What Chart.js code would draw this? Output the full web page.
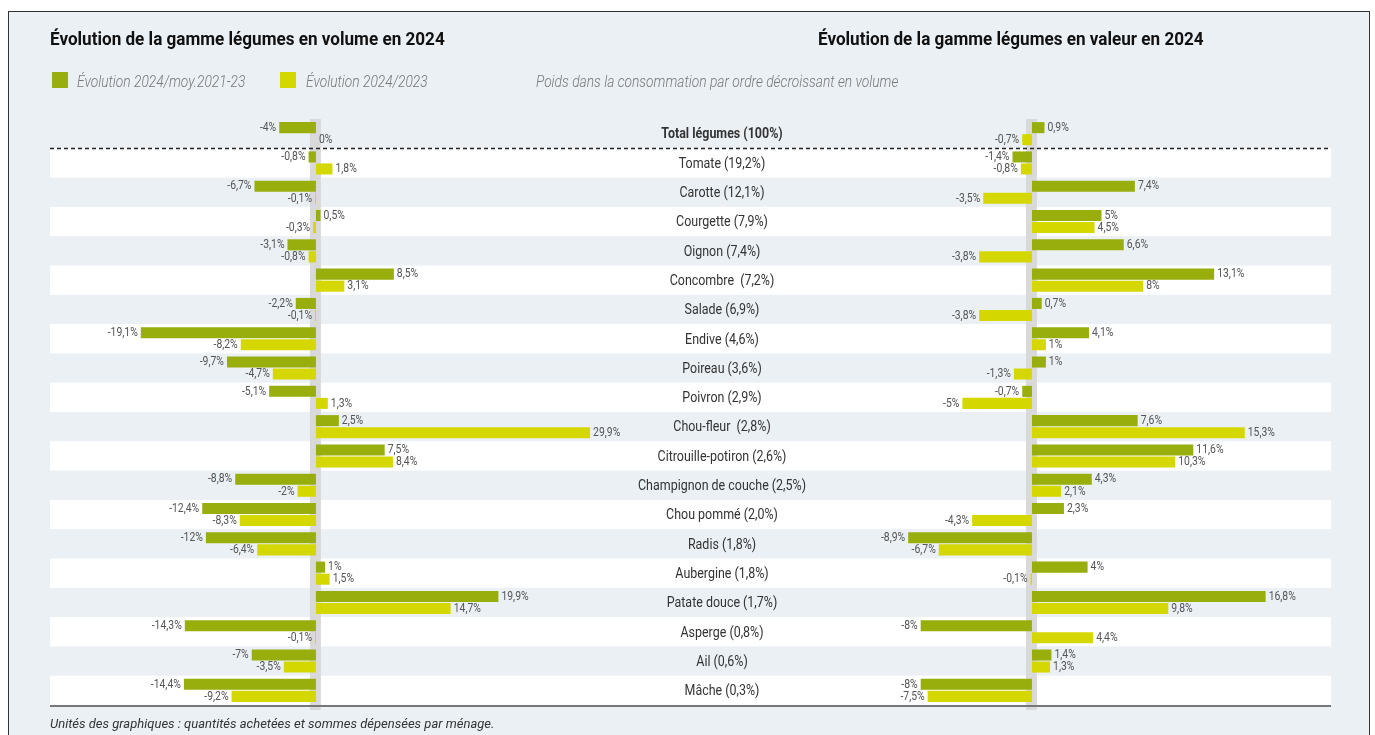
<!DOCTYPE html>
<html lang="fr">
<head>
    <meta charset="UTF-8">
    <title>Évolution de la gamme légumes en 2024</title>
    <style>
        body {
            margin: 0;
            width: 1375px;
            height: 735px;
            overflow: hidden;
            position: relative;
            background: #fff;
            font-family: Roboto, sans-serif;
        }
        #frame {
            position: absolute;
            left: 8px;
            top: 11px;
            width: 1362px;
            height: 740px;
            box-sizing: border-box;
            border: 1.5px solid #333;
            background: #ebf0f5;
        }
        #chart {
            position: absolute;
            left: 0;
            top: 0;
        }
        .title {
            position: absolute;
            top: 28px;
            font-size: 19px;
            line-height: 22px;
            font-weight: bold;
            color: #111;
            white-space: nowrap;
            transform: scaleX(0.9);
            transform-origin: left center;
        }
        .swatch {
            position: absolute;
            top: 72px;
            width: 16px;
            height: 16px;
        }
        .legend {
            position: absolute;
            top: 71px;
            font-size: 17px;
            line-height: 20px;
            font-style: italic;
            font-weight: 300;
            color: #777;
            white-space: nowrap;
            transform: scaleX(0.81);
            transform-origin: left center;
        }
        #note {
            position: absolute;
            left: 50px;
            top: 716px;
            font-size: 13px;
            line-height: 16px;
            font-style: italic;
            color: #333;
            white-space: nowrap;
        }
    </style>
    <script src="https://cdn.jsdelivr.net/npm/chart.js"></script>
</head>
<body>
    <div id="frame"></div>
    <canvas id="chart" width="1375" height="735"></canvas>
    <div class="title" style="left:50px">Évolution de la gamme légumes en volume en 2024</div>
    <div class="title" style="left:818px">Évolution de la gamme légumes en valeur en 2024</div>
    <div class="swatch" style="left:52px; background:#98ae0c"></div>
    <div class="legend" style="left:77px">Évolution 2024/moy.2021-23</div>
    <div class="swatch" style="left:280px; background:#d4d800"></div>
    <div class="legend" style="left:306px">Évolution 2024/2023</div>
    <div class="legend" style="left:536px">Poids dans la consommation par ordre décroissant en volume</div>
    <div id="note">Unités des graphiques : quantités achetées et sommes dépensées par ménage.</div>

    <script>
        const categories = [
            'Total légumes (100%)', 'Tomate (19,2%)', 'Carotte (12,1%)', 'Courgette (7,9%)',
            'Oignon (7,4%)', 'Concombre  (7,2%)', 'Salade (6,9%)', 'Endive (4,6%)',
            'Poireau (3,6%)', 'Poivron (2,9%)', 'Chou-fleur  (2,8%)', 'Citrouille-potiron (2,6%)',
            'Champignon de couche (2,5%)', 'Chou pommé (2,0%)', 'Radis (1,8%)', 'Aubergine (1,8%)',
            'Patate douce (1,7%)', 'Asperge (0,8%)', 'Ail (0,6%)', 'Mâche (0,3%)'
        ];

        // volume
        const volVsMoy = [-4, -0.8, -6.7, 0.5, -3.1, 8.5, -2.2, -19.1, -9.7, -5.1, 2.5, 7.5, -8.8, -12.4, -12, 1, 19.9, -14.3, -7, -14.4];
        const volVs2023 = [0, 1.8, -0.1, -0.3, -0.8, 3.1, -0.1, -8.2, -4.7, 1.3, 29.9, 8.4, -2, -8.3, -6.4, 1.5, 14.7, -0.1, -3.5, -9.2];

        // valeur
        const valVsMoy = [0.9, -1.4, 7.4, 5, 6.6, 13.1, 0.7, 4.1, 1, -0.7, 7.6, 11.6, 4.3, 2.3, -8.9, 4, 16.8, -8, 1.4, -8];
        const valVs2023 = [-0.7, -0.8, -3.5, 4.5, -3.8, 8, -3.8, 1, -1.3, -5, 15.3, 10.3, 2.1, -4.3, -6.7, -0.1, 9.8, 4.4, 1.3, -7.5];

        const green = '#98ae0c';
        const yellow = '#d4d800';
        const font = 'Roboto, sans-serif';
        const labelX = 722;

        function fmt(v) {
            return String(v).replace('.', ',') + '%';
        }

        // narrow text: squeeze horizontally around the anchor point
        function narrowText(ctx, text, x, y, sx) {
            ctx.save();
            ctx.translate(x, y);
            ctx.scale(sx, 1);
            ctx.fillText(text, 0, 0);
            ctx.restore();
        }

        const decorPlugin = {
            id: 'decor',
            beforeDatasetsDraw(chart) {
                const {ctx, chartArea, scales} = chart;
                const y = scales.y;
                const step = y.getPixelForValue(1) - y.getPixelForValue(0);
                ctx.save();
                // white bands
                ctx.fillStyle = '#fff';
                categories.forEach((c, i) => {
                    if (i % 2 === 1) {
                        ctx.fillRect(chartArea.left, y.getPixelForValue(i) - step / 2, chartArea.right - chartArea.left, step);
                    }
                });
                // zero bands
                ctx.fillStyle = '#d9d9d9';
                [scales.xL, scales.xR].forEach(s => {
                    const x0 = s.getPixelForValue(0);
                    ctx.fillRect(x0 - 6, chartArea.top, 11, chartArea.bottom - chartArea.top + 5);
                });
                // dashed separator below total
                const yd = Math.round(y.getPixelForValue(0) + step / 2) + 0.5;
                ctx.strokeStyle = '#222';
                ctx.lineWidth = 1.5;
                ctx.setLineDash([4, 3]);
                ctx.beginPath();
                ctx.moveTo(chartArea.left, yd);
                ctx.lineTo(chartArea.right, yd);
                ctx.stroke();
                // bottom line
                ctx.setLineDash([]);
                ctx.strokeStyle = '#777';
                ctx.lineWidth = 2;
                ctx.beginPath();
                ctx.moveTo(chartArea.left, chartArea.bottom + 1);
                ctx.lineTo(chartArea.right, chartArea.bottom + 1);
                ctx.stroke();
                ctx.restore();
            },
            afterDatasetsDraw(chart) {
                const {ctx, scales} = chart;
                ctx.save();
                ctx.textBaseline = 'middle';
                ctx.fillStyle = '#555';
                ctx.font = '13px ' + font;
                chart.data.datasets.forEach((ds, di) => {
                    const meta = chart.getDatasetMeta(di);
                    meta.data.forEach((bar, i) => {
                        const v = ds.data[i];
                        if (v >= 0) {
                            ctx.textAlign = 'left';
                            narrowText(ctx, fmt(v), Math.max(bar.x, bar.base) + 3, bar.y, 0.8);
                        } else {
                            ctx.textAlign = 'right';
                            narrowText(ctx, fmt(v), Math.min(bar.x, bar.base) - 3, bar.y, 0.8);
                        }
                    });
                });
                // category labels
                ctx.textAlign = 'center';
                ctx.fillStyle = '#333';
                categories.forEach((c, i) => {
                    ctx.font = (i === 0 ? 'bold ' : '') + '15px ' + font;
                    narrowText(ctx, c, labelX, scales.y.getPixelForValue(i) + 1, 0.83);
                });
                ctx.restore();
            }
        };

        window.onload = function() {
            const ctx = document.getElementById('chart').getContext('2d');
            new Chart(ctx, {
                type: 'bar',
                data: {
                    labels: categories,
                    datasets: [
                        { label: 'Évolution 2024/moy.2021-23', data: volVsMoy, xAxisID: 'xL', stack: 'a', backgroundColor: green },
                        { label: 'Évolution 2024/2023', data: volVs2023, xAxisID: 'xL', stack: 'b', backgroundColor: yellow },
                        { label: 'Évolution 2024/moy.2021-23', data: valVsMoy, xAxisID: 'xR', stack: 'a', backgroundColor: green },
                        { label: 'Évolution 2024/2023', data: valVs2023, xAxisID: 'xR', stack: 'b', backgroundColor: yellow }
                    ]
                },
                options: {
                    indexAxis: 'y',
                    responsive: false,
                    animation: false,
                    categoryPercentage: 0.82,
                    barPercentage: 0.92,
                    layout: {
                        padding: { left: 50, right: 44, top: 119, bottom: 30 }
                    },
                    plugins: {
                        legend: { display: false },
                        tooltip: { enabled: false }
                    },
                    scales: {
                        y: { type: 'category', display: false, offset: true },
                        xL: { type: 'linear', axis: 'x', display: false, stacked: false, min: -29, max: 110.7 },
                        xR: { type: 'linear', axis: 'x', display: false, stacked: false, min: -70.6, max: 21.5 }
                    }
                },
                plugins: [decorPlugin]
            });
        };
    </script>
</body>
</html>
